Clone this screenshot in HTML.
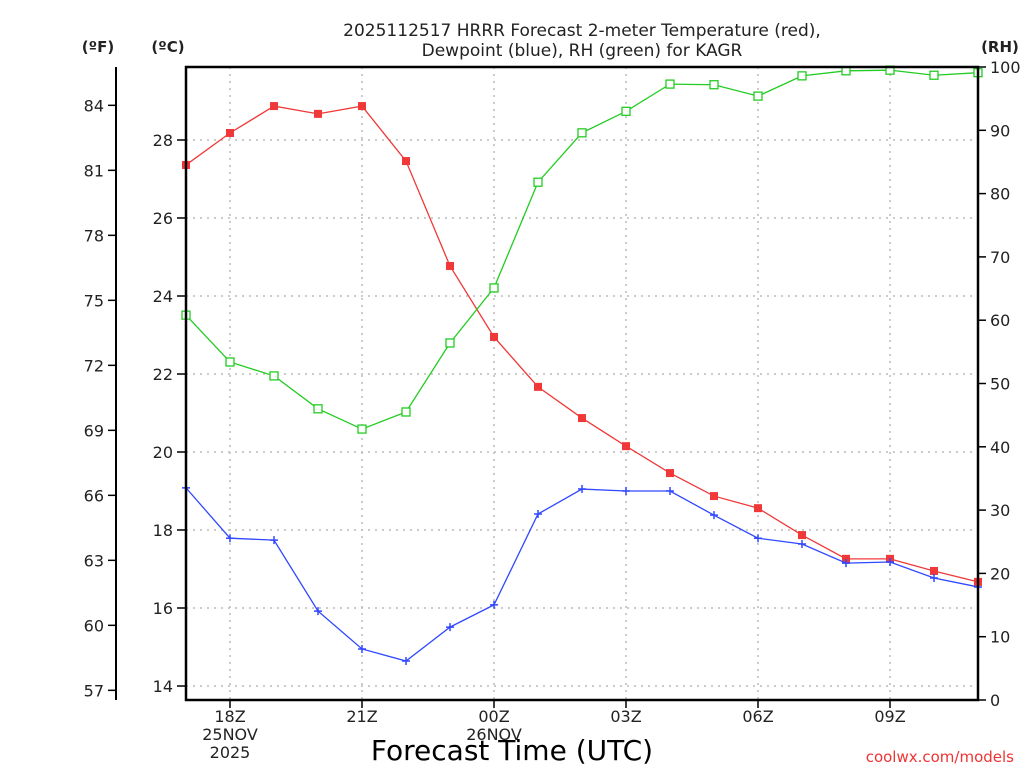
<!DOCTYPE html>
<html><head><meta charset="utf-8"><style>
body{margin:0;background:#fff}
svg text{font-family:"DejaVu Sans","Liberation Sans",sans-serif;fill:#222}
</style></head><body>
<svg id="c" width="1024" height="768" xmlns="http://www.w3.org/2000/svg">
<text x="582" y="36" text-anchor="middle" font-size="17">2025112517 HRRR Forecast 2-meter Temperature (red),</text>
<text x="582" y="56" text-anchor="middle" font-size="17">Dewpoint (blue), RH (green) for KAGR</text>
<text x="98" y="52" text-anchor="middle" font-size="15" font-weight="bold">(ºF)</text>
<text x="168" y="52" text-anchor="middle" font-size="15" font-weight="bold">(ºC)</text>
<text x="1000" y="52" text-anchor="middle" font-size="15" font-weight="bold">(RH)</text>
<text x="512" y="760" text-anchor="middle" font-size="28" fill="#000" style="fill:#000">Forecast Time (UTC)</text>
<text x="1014" y="762" text-anchor="end" font-size="15" style="fill:#e33">coolwx.com/models</text>
<g id="g"></g>
</svg>
<script>
const hours=['17','18','19','20','21','22','23','00','01','02','03','04','05','06','07','08','09','10','11'];
const tempC=[27.36,28.18,28.87,28.67,28.87,27.46,24.77,22.95,21.67,20.87,20.15,19.46,18.87,18.56,17.87,17.26,17.26,16.95,16.67];
const dewC=[19.08,17.79,17.74,15.92,14.95,14.64,15.51,16.08,18.41,19.05,19.0,19.0,18.38,17.79,17.64,17.15,17.18,16.77,16.54];
const rh=[60.8,53.4,51.2,46.0,42.8,45.5,56.4,65.1,81.8,89.6,93.0,97.3,97.2,95.4,98.6,99.4,99.5,98.7,99.1];
const cTicks=[14,16,18,20,22,24,26,28];
const fTicks=[57,60,63,66,69,72,75,78,81,84];
const rhTicks=[0,10,20,30,40,50,60,70,80,90,100];
const xLabels=[{i:1,t:['18Z','25NOV','2025']},{i:4,t:['21Z']},{i:7,t:['00Z','26NOV']},{i:10,t:['03Z']},{i:13,t:['06Z']},{i:16,t:['09Z']}];
const L=186,R=978,T=67,B=700;
const x=i=>L+i*(R-L)/(hours.length-1);
const yC=c=>140+(28-c)*39;
const yF=f=>yC((f-32)/1.8);
const yRH=v=>B-v*(B-T)/100;
const g=document.getElementById('g');const NS='http://www.w3.org/2000/svg';
function mk(t,a,p){const e=document.createElementNS(NS,t);for(const k in a)e.setAttribute(k,a[k]);(p||g).appendChild(e);return e;}
cTicks.forEach(c=>{const e=mk('line',{x1:L,x2:R,y1:yC(c),y2:yC(c),stroke:'#bbb','stroke-dasharray':'2,5','stroke-width':1.5});


const tk=mk('line',{x1:L-9,x2:L,y1:yC(c),y2:yC(c),stroke:'#000','stroke-width':1.5});


const t=mk('text',{x:L-13,y:yC(c)+6,'text-anchor':'end','font-size':16});t.textContent=c;

});
xLabels.forEach(o=>{const xx=x(o.i);const e=mk('line',{x1:xx,x2:xx,y1:T,y2:B,stroke:'#bbb','stroke-dasharray':'2,5','stroke-width':1.5});


const tk=mk('line',{x1:xx,x2:xx,y1:B,y2:B+8,stroke:'#000','stroke-width':1.5});


o.t.forEach((s,k)=>{const t=mk('text',{x:xx,y:722+k*18,'text-anchor':'middle','font-size':16});t.textContent=s;

});});
const fa=mk('line',{x1:116,x2:116,y1:T,y2:B,stroke:'#000','stroke-width':2});


fTicks.forEach(f=>{const tk=mk('line',{x1:108,x2:116,y1:yF(f),y2:yF(f),stroke:'#000','stroke-width':1.5});


const t=mk('text',{x:104,y:yF(f)+6,'text-anchor':'end','font-size':16});t.textContent=f;

});
rhTicks.forEach(v=>{const tk=mk('line',{x1:R,x2:R+8,y1:yRH(v),y2:yRH(v),stroke:'#000','stroke-width':1.5});


const t=mk('text',{x:R+12,y:yRH(v)+6,'text-anchor':'start','font-size':16});t.textContent=v;

});
function series(vals,yf,col,name,marker){
const pl=mk('polyline',{points:vals.map((v,i)=>x(i)+','+yf(v)).join(' '),fill:'none',stroke:col,'stroke-width':1.3});


vals.forEach((v,i)=>{const cx=x(i),cy=yf(v);let m;
if(marker==='fill'){m=mk('rect',{x:cx-4,y:cy-4,width:8,height:8,fill:col});}
else if(marker==='open'){m=mk('rect',{x:cx-4,y:cy-4,width:8,height:8,fill:'#fff',stroke:col,'stroke-width':1.3});}
else{m=mk('path',{d:`M${cx-4},${cy}H${cx+4}M${cx},${cy-4}V${cy+4}`,stroke:col,'stroke-width':1.5});}

});}
series(tempC,yC,'#f03838','temperature','fill');
series(dewC,yC,'#3048ff','dewpoint','plus');
series(rh,yRH,'#22cc22','rh','open');
const fr=mk('rect',{x:L,y:T,width:R-L,height:B-T,fill:'none',stroke:'#000','stroke-width':2.5});


</script>
</body></html>
